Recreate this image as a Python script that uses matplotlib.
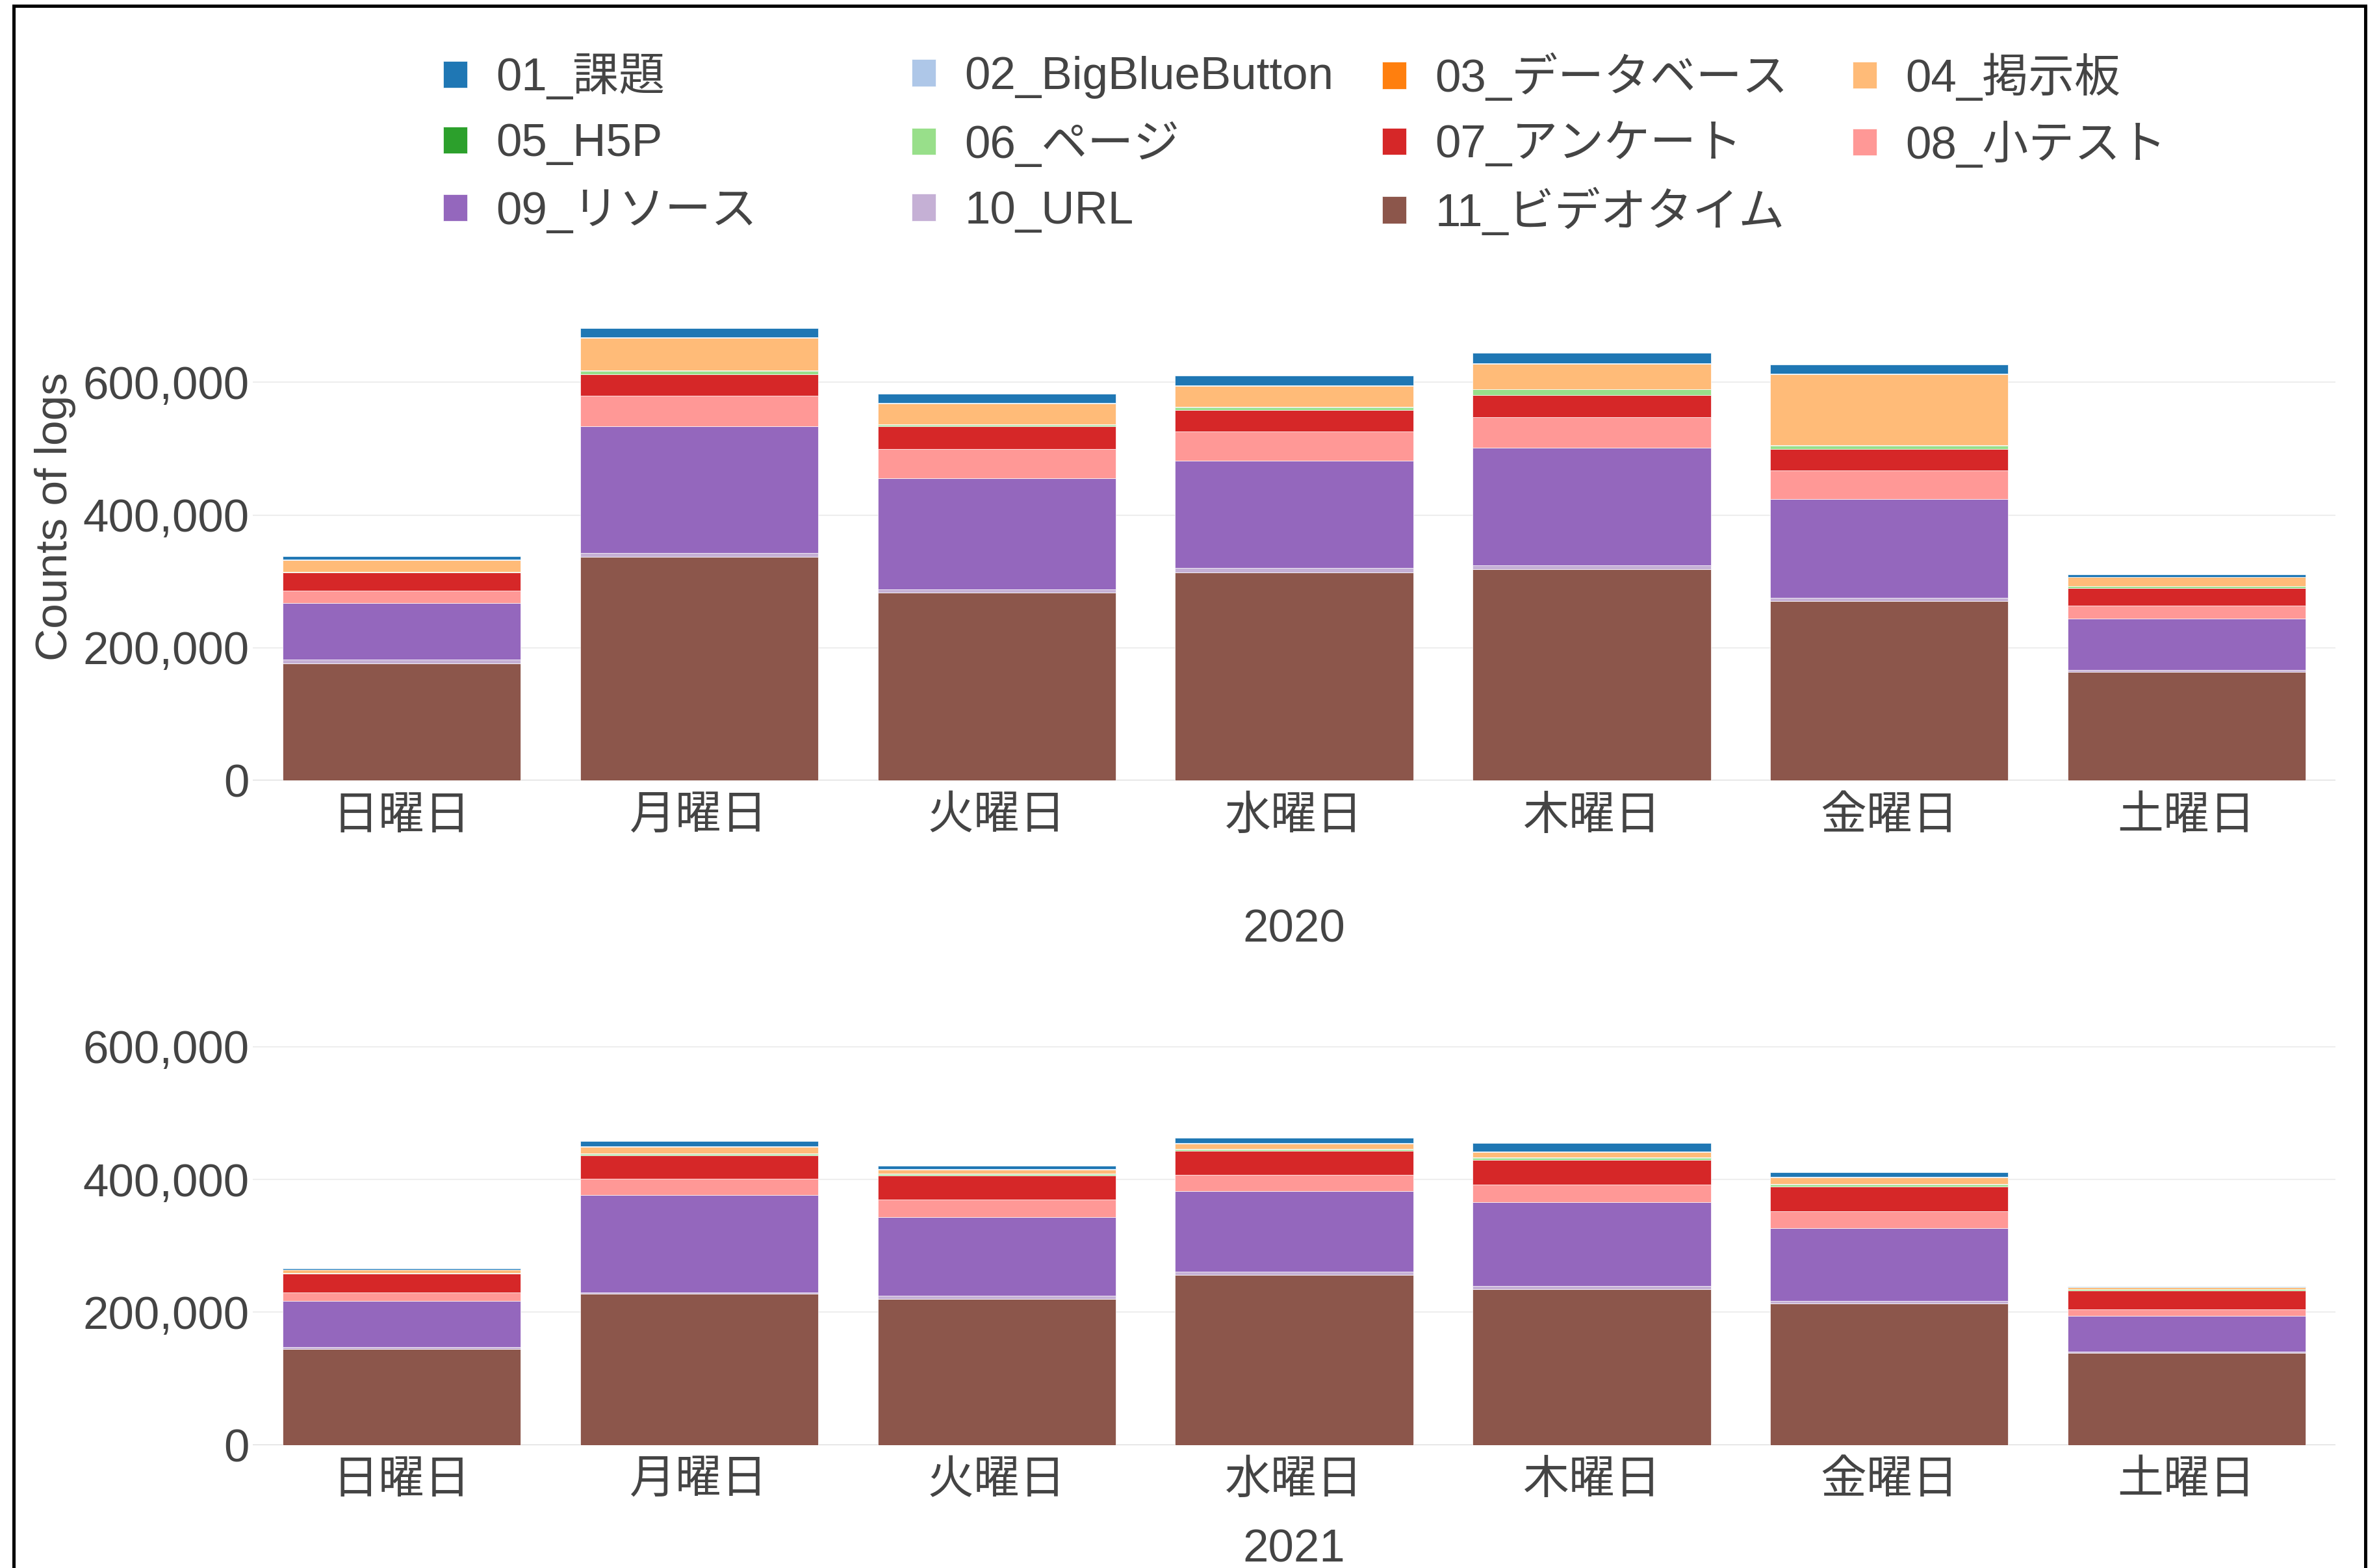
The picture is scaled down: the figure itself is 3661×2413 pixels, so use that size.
import matplotlib

matplotlib.use("Agg")
from matplotlib import pyplot as plt
from matplotlib.lines import Line2D
from matplotlib.ticker import FuncFormatter

FONT = ["Liberation Sans", "Noto Sans CJK JP", "DejaVu Sans"]
plt.rcParams["font.family"] = FONT
TEXT_COLOR = "#444444"
FONT_SIZE = 51

weekdays = ["日曜日", "月曜日", "火曜日", "水曜日", "木曜日", "金曜日", "土曜日"]
categories = [
    "01_課題", "02_BigBlueButton", "03_データベース", "04_掲示板",
    "05_H5P", "06_ページ", "07_アンケート", "08_小テスト",
    "09_リソース", "10_URL", "11_ビデオタイム",
]
colors = [
    "#1f77b4", "#aec7e8", "#ff7f0e", "#ffbb78", "#2ca02c", "#98df8a",
    "#d62728", "#ff9896", "#9467bd", "#c5b0d5", "#8c564b",
]

# counts per weekday (Sun..Sat), one list per category
counts_2020 = {
    "01_課題": [5600, 14000, 13600, 15000, 15900, 14000, 3700],
    "02_BigBlueButton": [300, 500, 500, 600, 600, 800, 200],
    "03_データベース": [100, 200, 200, 200, 200, 200, 100],
    "04_掲示板": [17400, 49100, 31600, 31000, 38200, 106800, 13000],
    "05_H5P": [300, 800, 500, 1000, 600, 600, 300],
    "06_ページ": [1200, 5300, 2400, 3700, 8300, 4500, 3000],
    "07_アンケート": [27100, 32300, 33700, 32300, 33200, 32800, 26700],
    "08_小テスト": [18700, 45900, 44600, 44600, 46400, 42700, 19200],
    "09_リソース": [85800, 190700, 167200, 161200, 177600, 149500, 77800],
    "10_URL": [5600, 5700, 5200, 7100, 5700, 4200, 2800],
    "11_ビデオタイム": [176200, 337300, 283000, 313400, 318100, 270800, 163500],
}
counts_2021 = {
    "01_課題": [1500, 8300, 5600, 7900, 12700, 6700, 1500],
    "02_BigBlueButton": [200, 600, 1000, 600, 800, 700, 200],
    "03_データベース": [100, 200, 200, 200, 200, 200, 100],
    "04_掲示板": [5000, 10000, 5800, 8200, 8200, 10000, 2700],
    "05_H5P": [300, 1000, 800, 1000, 600, 1000, 300],
    "06_ページ": [600, 1500, 2200, 2000, 2400, 2400, 1200],
    "07_アンケート": [28100, 35200, 35600, 35600, 37500, 37100, 28500],
    "08_小テスト": [13100, 25100, 26200, 25100, 26200, 26200, 9700],
    "09_リソース": [69300, 146400, 118700, 120600, 127000, 109400, 54300],
    "10_URL": [3000, 2300, 4900, 4900, 4500, 4100, 1500],
    "11_ビデオタイム": [144600, 227700, 220200, 256600, 234800, 212700, 139000],
}
years = ["2020", "2021"]
y_ticks = [0, 200000, 400000, 600000]

W, H = 3661, 2413
fig = plt.figure(figsize=(W / 100, H / 100), dpi=100)


def px_rect(left, top, right, bottom):
    return [left / W, 1 - bottom / H, (right - left) / W, (bottom - top) / H]


ax_top = fig.add_axes(px_rect(389, 468, 3594, 1201))
ax_bottom = fig.add_axes(px_rect(389, 1490.5, 3594, 2223.5))


def draw_stack(axis, counts):
    containers = []
    bottoms = [0] * len(weekdays)
    # stack from the last category up to the first one
    for name, color in reversed(list(zip(categories, colors))):
        values = counts[name]
        bars = axis.bar(
            range(len(weekdays)),
            values,
            width=0.8,
            bottom=bottoms,
            color=color,
            edgecolor="white",
            linewidth=0.5,
            label=name,
            zorder=2,
        )
        containers.append(bars)
        bottoms = [b + v for b, v in zip(bottoms, values)]
    axis.set_xlim(-0.5, len(weekdays) - 0.5)
    axis.set_ylim(0, 718000)
    axis.set_xticks(range(len(weekdays)))
    axis.set_xticklabels(weekdays)
    axis.set_yticks(y_ticks)
    axis.yaxis.set_major_formatter(FuncFormatter(lambda v, _: f"{int(v):,}"))
    axis.tick_params(length=0, labelsize=FONT_SIZE, labelcolor=TEXT_COLOR)
    axis.tick_params(axis="x", pad=17)
    axis.tick_params(axis="y", pad=4)
    axis.grid(axis="y", color="#eeeeee", linewidth=1.5, zorder=0)
    axis.axhline(0, color="#d6d6d6", linewidth=2.2, zorder=1)
    axis.set_axisbelow(True)
    for spine in axis.spines.values():
        spine.set_visible(False)
    return containers[::-1]


handles = draw_stack(ax_top, counts_2020)
draw_stack(ax_bottom, counts_2021)

fig.text(1991 / W, 1 - 1450 / H, years[0], ha="center", va="baseline",
         fontsize=FONT_SIZE, color=TEXT_COLOR)
fig.text(1991 / W, 1 - 2403 / H, years[1], ha="center", va="baseline",
         fontsize=FONT_SIZE, color=TEXT_COLOR)
fig.text(103 / W, 1 - 795 / H, "Counts of logs", rotation=90, rotation_mode="anchor",
         ha="center", va="baseline", fontsize=FONT_SIZE - 1, color=TEXT_COLOR)

# horizontal legend, filled row by row with evenly spaced columns
column_x = [682, 1403, 2127, 2851]
row_y = [119, 222.5, 326]
for i, (handle, name) in enumerate(zip(handles, categories)):
    row, col = divmod(i, 4)
    legend = fig.legend(
        [handle],
        [name],
        loc="center left",
        bbox_to_anchor=(column_x[col] / W, 1 - row_y[row] / H),
        bbox_transform=fig.transFigure,
        frameon=False,
        borderpad=0,
        borderaxespad=0,
        handlelength=0.52,
        handleheight=0.52,
        handletextpad=0.63,
        fontsize=FONT_SIZE,
    )
    for text in legend.get_texts():
        text.set_color(TEXT_COLOR)

# black frame of the screenshot
frame_x = [21 / W, 21 / W, 3640 / W, 3640 / W]
frame_y = [0, 1 - 9 / H, 1 - 9 / H, 0]
fig.add_artist(Line2D(frame_x, frame_y, color="black", linewidth=3.6,
                      transform=fig.transFigure, solid_joinstyle="miter"))

fig.savefig("out.png", dpi=100, facecolor="white")
